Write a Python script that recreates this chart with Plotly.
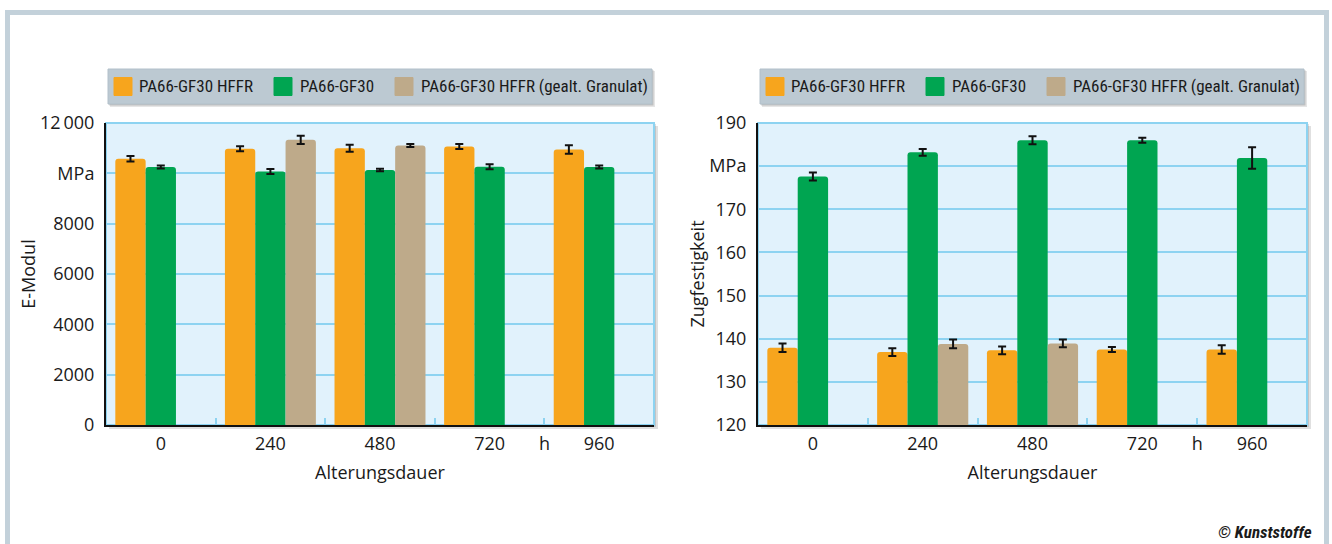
import plotly.graph_objects as go

W, H = 1332, 544

# ---------------- data ----------------
categories = ["0", "240", "480", "720", "960"]
unit_label = "h"
series_names = ["PA66-GF30 HFFR", "PA66-GF30", "PA66-GF30 HFFR (gealt. Granulat)"]

emod_hffr = [10580, 10980, 11000, 11070, 10950]
emod_hffr_err = [110, 100, 140, 100, 170]
emod_gf30 = [10250, 10070, 10130, 10260, 10250]
emod_gf30_err = [60, 100, 50, 100, 60]
emod_gran = [None, 11330, 11110, None, None]
emod_gran_err = [None, 160, 60, None, None]

zug_hffr = [137.9, 136.9, 137.3, 137.5, 137.5]
zug_hffr_err = [1.0, 0.9, 0.9, 0.6, 1.0]
zug_gf30 = [177.6, 183.2, 186.0, 186.0, 181.9]
zug_gf30_err = [0.9, 0.8, 0.9, 0.6, 2.5]
zug_gran = [None, 138.8, 138.9, None, None]
zug_gran_err = [None, 1.0, 0.9, None, None]

emod_ticks = [0, 2000, 4000, 6000, 8000, 10000, 12000]
emod_ticktext = ["0", "2000", "4000", "6000", "8000", "MPa", "12\u2009000"]
zug_ticks = [120, 130, 140, 150, 160, 170, 180, 190]
zug_ticktext = ["120", "130", "140", "150", "160", "170", "MPa", "190"]

left_ytitle = "E-Modul"
right_ytitle = "Zugfestigkeit"
xtitle = "Alterungsdauer"
credit = "© Kunststoffe"

# ---------------- styles ----------------
colors = ["#F7A51D", "#00A551", "#BEAA8A"]
AXFONT = "Open Sans, Liberation Sans, Arial, sans-serif"
LGFONT = "Liberation Sans Narrow, Arial Narrow, Roboto Condensed, sans-serif"
TXT = "#1a1a1a"
PLOT_BG = "#E1F2FC"
GRID = "#8DD3F1"
LEGEND_BG = "#BCC9D2"
FRAME = "#C3D1DA"


def px(x):
    return x / W


def py(y):
    return 1 - y / H


# plot-area geometry (pixels)
L1, R1 = 106, 654
L2, R2 = 758, 1307
TOP, BOT = 123, 425
DX = L2 - L1  # offset between the two panels

xpos = list(range(len(categories)))
tickvals = xpos[:4] + [3.5] + xpos[4:]
ticktext = categories[:4] + [unit_label] + categories[4:]
group_bounds = [p + 0.5 for p in xpos[:-1]]

fig = go.Figure()

left_sets = [(emod_hffr, emod_hffr_err), (emod_gf30, emod_gf30_err), (emod_gran, emod_gran_err)]
right_sets = [(zug_hffr, zug_hffr_err), (zug_gf30, zug_gf30_err), (zug_gran, zug_gran_err)]

for sets, xa, ya in [(left_sets, "x", "y"), (right_sets, "x2", "y2")]:
    for i, (vals, errs) in enumerate(sets):
        fig.add_trace(go.Bar(
            x=xpos, y=vals, name=series_names[i], showlegend=False,
            marker=dict(color=colors[i], line=dict(width=0), cornerradius=3),
            error_y=dict(type="data", array=errs, color="#111111", thickness=2, width=4),
            xaxis=xa, yaxis=ya,
        ))

xaxis_common = dict(
    range=[-0.5, len(categories) - 0.5],
    tickvals=tickvals, ticktext=ticktext,
    ticks="", showgrid=False, zeroline=False,
    showline=True, linecolor="#111111", linewidth=2,
    tickfont=dict(family=AXFONT, size=18, color=TXT),
    ticklabelstandoff=1,
    minor=dict(ticks="inside", tickmode="array", tickvals=group_bounds, ticklen=7,
               tickcolor=GRID, tickwidth=2, showgrid=False),
    title=dict(text=xtitle, font=dict(family=AXFONT, size=18, color=TXT), standoff=13),
    automargin=False,
    fixedrange=True,
)
yaxis_common = dict(
    ticks="", showgrid=True, gridcolor=GRID, gridwidth=2, zeroline=False,
    showline=True, linecolor="#111111", linewidth=2,
    tickfont=dict(family=AXFONT, size=18, color=TXT),
    ticklabelstandoff=6,
    automargin=False,
    fixedrange=True,
)

fig.update_layout(
    width=W, height=H,
    margin=dict(l=0, r=0, t=0, b=0, pad=0),
    paper_bgcolor="white",
    plot_bgcolor="rgba(0,0,0,0)",
    barmode="group", bargap=0.17, bargroupgap=0,
    font=dict(family=AXFONT, color=TXT),
    showlegend=False,
    xaxis=dict(domain=[px(L1), px(R1)], anchor="y", **xaxis_common),
    xaxis2=dict(domain=[px(L2), px(R2)], anchor="y2", **xaxis_common),
    yaxis=dict(domain=[py(BOT), py(TOP)], anchor="x", range=[0, 12000],
               tickvals=emod_ticks, ticktext=emod_ticktext,
               title=dict(text=left_ytitle, font=dict(family=AXFONT, size=18, color=TXT), standoff=0),
               **yaxis_common),
    yaxis2=dict(domain=[py(BOT), py(TOP)], anchor="x2", range=[120, 190],
                tickvals=zug_ticks, ticktext=zug_ticktext,
                title=dict(text=right_ytitle, font=dict(family=AXFONT, size=18, color=TXT), standoff=0),
                **yaxis_common),
)

shapes = []
annotations = []
# outer frame
shapes.append(dict(type="rect", xref="paper", yref="paper",
                   x0=px(7.5), x1=px(1326.5), y0=py(570), y1=py(12.5),
                   line=dict(color=FRAME, width=5), fillcolor="rgba(0,0,0,0)", layer="below"))

# legends (one per panel): box with shadow, swatches and labels
LG_X0, LG_X1, LG_Y0, LG_Y1 = 108, 652, 69, 104
sw_x = [114, 274, 395]
tx_x = [138, 299, 420]
SW = 18
LG_CY = (LG_Y0 + LG_Y1) / 2
for off in (0, DX):
    shapes.append(dict(type="rect", xref="paper", yref="paper",
                       x0=px(LG_X0 + off + 2), x1=px(LG_X1 + off + 3), y0=py(LG_Y1 + 3), y1=py(LG_Y0 + 2),
                       line=dict(width=0), fillcolor="rgba(0,0,0,0.10)", layer="below"))
    shapes.append(dict(type="rect", xref="paper", yref="paper",
                       x0=px(LG_X0 + off + 1), x1=px(LG_X1 + off + 1.5), y0=py(LG_Y1 + 1.5), y1=py(LG_Y0 + 1),
                       line=dict(width=0), fillcolor="rgba(0,0,0,0.16)", layer="below"))
    shapes.append(dict(type="rect", xref="paper", yref="paper",
                       x0=px(LG_X0 + off), x1=px(LG_X1 + off), y0=py(LG_Y1), y1=py(LG_Y0),
                       line=dict(color="#B2C0CA", width=1), fillcolor=LEGEND_BG, layer="below"))
    for i in range(3):
        shapes.append(dict(type="rect", xref="paper", yref="paper",
                           x0=px(sw_x[i] + off), x1=px(sw_x[i] + off + SW),
                           y0=py(LG_CY + SW / 2), y1=py(LG_CY - SW / 2),
                           line=dict(color=colors[i], width=1), fillcolor=colors[i], layer="below"))
        annotations.append(dict(text=series_names[i], xref="paper", yref="paper",
                                x=px(tx_x[i] + off - 1), y=py(LG_CY), xanchor="left", yanchor="middle",
                                showarrow=False, font=dict(family=LGFONT, size=17, color=TXT)))

# plot backgrounds with shadows
for (l, r) in [(L1, R1), (L2, R2)]:
    shapes.append(dict(type="rect", xref="paper", yref="paper",
                       x0=px(l + 3), x1=px(r + 4), y0=py(BOT + 4), y1=py(TOP + 3),
                       line=dict(width=0), fillcolor="rgba(0,0,0,0.12)", layer="below"))
    shapes.append(dict(type="rect", xref="paper", yref="paper",
                       x0=px(l + 1), x1=px(r + 2), y0=py(BOT + 2), y1=py(TOP + 1),
                       line=dict(width=0), fillcolor="rgba(0,0,0,0.12)", layer="below"))
    shapes.append(dict(type="rect", xref="paper", yref="paper",
                       x0=px(l), x1=px(r), y0=py(BOT), y1=py(TOP),
                       line=dict(color=GRID, width=2), fillcolor=PLOT_BG, layer="below"))

annotations.append(dict(text="<b><i>" + credit + "</i></b>", xref="paper", yref="paper",
                        x=px(1314), y=py(532), xanchor="right", yanchor="middle", showarrow=False,
                        font=dict(family=LGFONT, size=17, color=TXT)))

fig.update_layout(shapes=shapes, annotations=annotations)

fig.write_html(
    "out.html",
    config={"displayModeBar": False, "staticPlot": False},
    post_script="document.body.style.margin='0';document.body.style.padding='0';"
                "document.documentElement.style.overflow='hidden';",
)
